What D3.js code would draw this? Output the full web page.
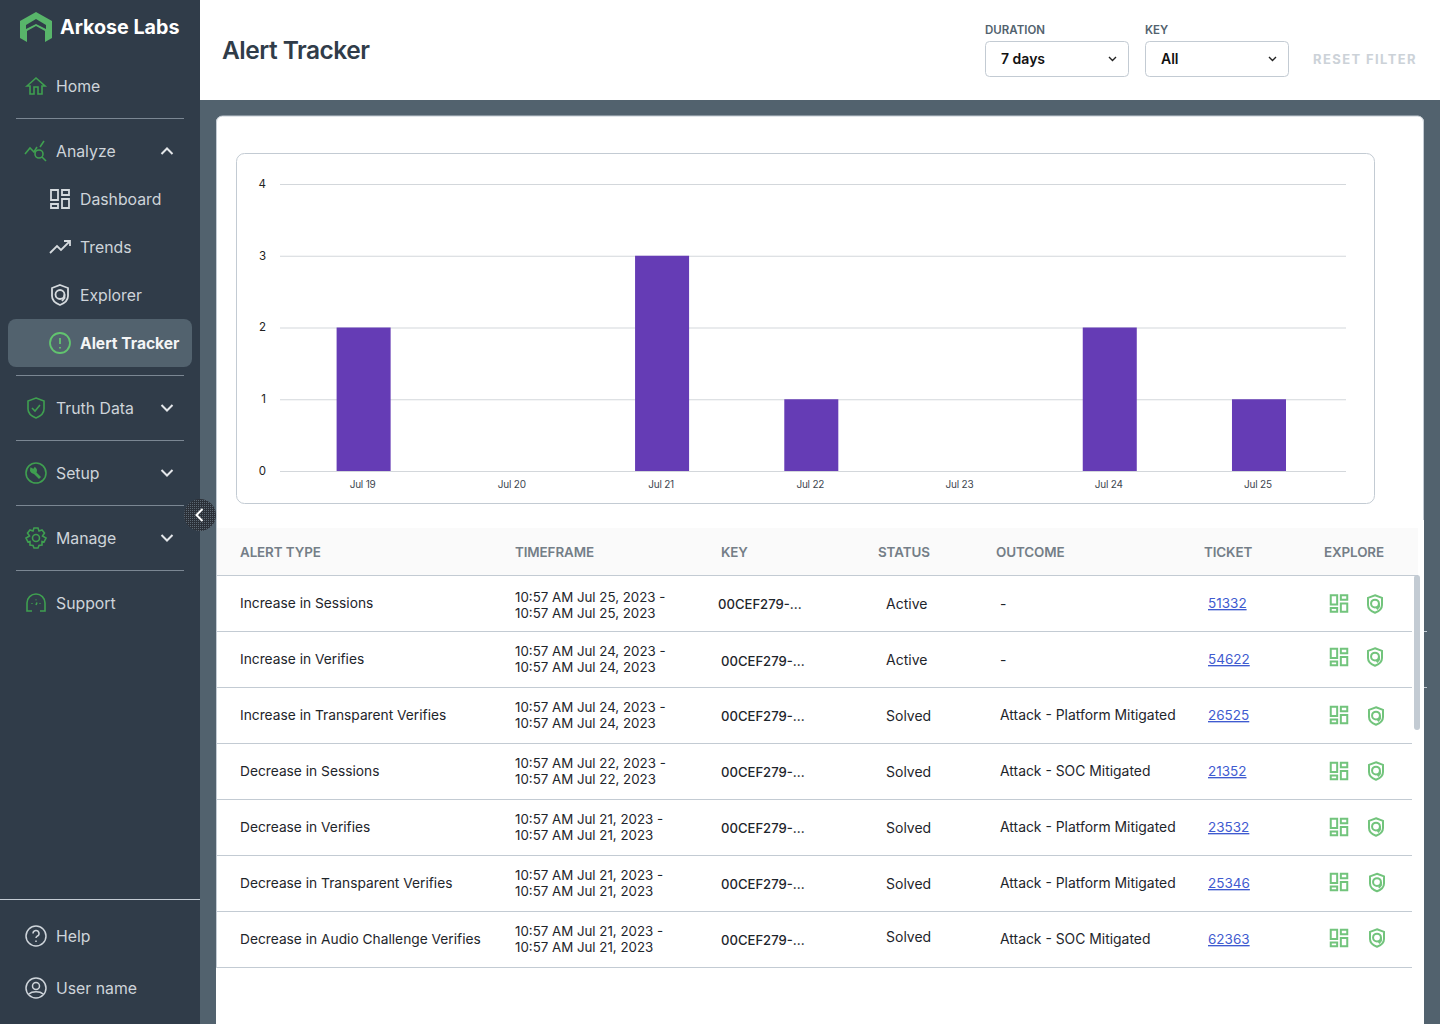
<!DOCTYPE html>
<html>
<head>
<meta charset="utf-8">
<script src="https://cdn.jsdelivr.net/npm/d3@7"></script>
<style>
  html, body { margin: 0; padding: 0; background: #fff; overflow: hidden; }
  text { font-family: Inter, "Noto Sans", sans-serif; }
</style>
</head>
<body>
<div id="app"></div>
<script>
// chart values
const days = ['Jul 19', 'Jul 20', 'Jul 21', 'Jul 22', 'Jul 23', 'Jul 24', 'Jul 25'];
const alertCounts = [2, 0, 3, 1, 0, 2, 1];
const yTicks = [0, 1, 2, 3, 4];

// table values
const columns = ['ALERT TYPE', 'TIMEFRAME', 'KEY', 'STATUS', 'OUTCOME', 'TICKET', 'EXPLORE'];
const alertTypes = ['Increase in Sessions', 'Increase in Verifies', 'Increase in Transparent Verifies', 'Decrease in Sessions', 'Decrease in Verifies', 'Decrease in Transparent Verifies', 'Decrease in Audio Challenge Verifies'];
const timeframes = ['Jul 25, 2023', 'Jul 24, 2023', 'Jul 24, 2023', 'Jul 22, 2023', 'Jul 21, 2023', 'Jul 21, 2023', 'Jul 21, 2023'];
const statuses = ['Active', 'Active', 'Solved', 'Solved', 'Solved', 'Solved', 'Solved'];
const outcomes = ['-', '-', 'Attack - Platform Mitigated', 'Attack - SOC Mitigated', 'Attack - Platform Mitigated', 'Attack - Platform Mitigated', 'Attack - SOC Mitigated'];
const tickets = ['51332', '54622', '26525', '21352', '23532', '25346', '62363'];

// sidebar
const navMain = [
  { label: 'Home', icon: 'home', y: 86 },
  { label: 'Analyze', icon: 'analyze', y: 151, chev: 'up' },
  { label: 'Truth Data', icon: 'truth', y: 408, chev: 'down' },
  { label: 'Setup', icon: 'setup', y: 473, chev: 'down' },
  { label: 'Manage', icon: 'manage', y: 538, chev: 'down' },
  { label: 'Support', icon: 'support', y: 603 }
];
const navSub = [
  { label: 'Dashboard', icon: 'grid', y: 199 },
  { label: 'Trends', icon: 'trend', y: 247 },
  { label: 'Explorer', icon: 'shield', y: 295 },
  { label: 'Alert Tracker', icon: 'alert', y: 343, active: true }
];
const navFoot = [
  { label: 'Help', icon: 'help', y: 936 },
  { label: 'User name', icon: 'user', y: 988 }
];
const navRules = [118, 375, 440, 505, 570];

const SIDE = '#303c49', SLATE = '#52626e', LINE = '#c3cbd3', GREEN = '#3f9f50', LIGHTGREEN = '#72c47c', NAVTXT = '#ced4da';

const svg = d3.select('#app').append('svg').attr('width', 1440).attr('height', 1024).style('display', 'block');

svg.append('rect').attr('width', 1440).attr('height', 1024).attr('fill', SLATE);
svg.append('rect').attr('x', 200).attr('width', 1240).attr('height', 100).attr('fill', '#fff');
svg.append('path').attr('d', 'M216,1024V122a6,6 0 0 1 6,-6H1418a6,6 0 0 1 6,6V1024Z').attr('fill', '#fff');
svg.append('path').attr('d', 'M216.5,968V122a6,6 0 0 1 6,-6H1418a6,6 0 0 1 5.5,6V520').attr('fill', 'none').attr('stroke', LINE);

// header
svg.append('text').attr('x', 222).attr('y', 58.5).attr('font-size', 24.5).attr('font-weight', 600).attr('fill', '#303c49').attr('letter-spacing', -0.5).text('Alert Tracker');

const filters = [{ label: 'DURATION', value: '7 days', x: 985 }, { label: 'KEY', value: 'All', x: 1145 }];
const filterG = svg.append('g').selectAll('g').data(filters).join('g').attr('transform', d => `translate(${d.x},0)`);
filterG.append('text').attr('y', 34).attr('font-size', 11.5).attr('font-weight', 600).attr('fill', SLATE).text(d => d.label);
filterG.append('rect').attr('x', 0.5).attr('y', 41.5).attr('width', 143).attr('height', 35).attr('rx', 4).attr('fill', '#fff').attr('stroke', LINE);
filterG.append('text').attr('x', 16).attr('y', 64).attr('font-size', 14).attr('font-weight', 600).attr('fill', '#111').text(d => d.value);
filterG.append('path').attr('d', 'M124,57l3.5,3.5l3.5,-3.5').attr('fill', 'none').attr('stroke', '#222').attr('stroke-width', 1.4);
svg.append('text').attr('x', 1313).attr('y', 64).attr('font-size', 13).attr('font-weight', 700).attr('letter-spacing', 1.4).attr('fill', '#ccd2d8').text('RESET FILTER');

// chart box
svg.append('rect').attr('x', 236.5).attr('y', 153.5).attr('width', 1138).attr('height', 350).attr('rx', 8).attr('fill', '#fff').attr('stroke', LINE);

const x = d3.scaleBand().domain(days).range([289, 1333.6]).paddingInner(0.638).paddingOuter(0.319);
const y = d3.scaleLinear().domain([0, 4]).range([471, 184]);

const yAxis = svg.append('g').attr('transform', 'translate(280,0)')
  .call(d3.axisLeft(y).tickValues(yTicks).tickSize(-1066).tickPadding(14).tickFormat(d3.format('d')));
yAxis.select('.domain').remove();
yAxis.selectAll('line').attr('stroke', '#d3d7db');
yAxis.selectAll('text').attr('font-size', 11.5).attr('fill', '#222').attr('dy', '0.3em');

svg.append('g').selectAll('rect').data(days).join('rect')
  .attr('x', d => x(d))
  .attr('width', x.bandwidth())
  .attr('y', (d, i) => y(alertCounts[i]))
  .attr('height', (d, i) => y(0) - y(alertCounts[i]))
  .attr('fill', '#653cb5');

const xAxis = svg.append('g').attr('transform', 'translate(0,471)')
  .call(d3.axisBottom(x).tickSize(0).tickPadding(10));
xAxis.select('.domain').remove();
xAxis.selectAll('text').attr('font-size', 10).attr('fill', '#3d4650').attr('letter-spacing', -0.2).attr('dx', -1);

// table
const rowY = d3.scaleBand().domain(d3.range(7)).range([576, 968]);
const colX = [240, 515, 721, 878, 996, 1204, 1324];
svg.append('rect').attr('x', 217).attr('y', 528).attr('width', 1201).attr('height', 47).attr('fill', '#fafafa');
svg.append('line').attr('x1', 217).attr('x2', 1418).attr('y1', 575.5).attr('y2', 575.5).attr('stroke', LINE);
svg.append('g').selectAll('text').data(columns).join('text')
  .attr('x', (d, i) => colX[i]).attr('y', 557)
  .attr('font-size', 13.4).attr('font-weight', 600).attr('fill', '#747e87').attr('letter-spacing', -0.1)
  .text(d => d);

// the source table is not quite regular, these are its small per-row shifts
const keyNudgeX = [-3, 0, 0, 0, 0, 0, 0];
const keyBase = [33, 34, 33, 33, 33, 33, 33];
const timeBase = [26, 24, 24, 24, 24, 24, 24];
const statusBase = [33, 33, 33, 33, 33, 33, 30];
const gridIconY = [27.5, 25, 27, 27, 27, 26, 26];
const shieldIconX = [1375, 1375, 1376, 1376, 1376, 1377, 1377];
const shieldIconY = [28, 25, 28, 27, 27, 26.5, 26];

const row = svg.append('g').selectAll('g').data(d3.range(7)).join('g')
  .attr('transform', i => `translate(0,${rowY(i)})`);
row.append('line').attr('x1', 217).attr('x2', 1412).attr('y1', 55.5).attr('y2', 55.5).attr('stroke', LINE);
const rowText = (sel, size) => sel.attr('font-size', size || 14).attr('fill', '#1e252b');
row.append('text').call(rowText, 13.75).attr('x', 240).attr('y', 32).text(i => alertTypes[i]);
row.append('text').call(rowText, 13.3).attr('x', 515).attr('y', i => timeBase[i]).text(i => `10:57 AM ${timeframes[i]} -`);
row.append('text').call(rowText, 13.3).attr('x', 515).attr('y', i => timeBase[i] + 16).text(i => `10:57 AM ${timeframes[i]}`);
row.append('text').call(rowText, 13.1).attr('x', i => 721 + keyNudgeX[i]).attr('y', i => keyBase[i]).attr('font-weight', 500).text('00CEF279-...');
row.append('text').call(rowText).attr('x', 886).attr('y', i => statusBase[i]).text(i => statuses[i]);
row.append('text').call(rowText, 13.9).attr('x', 1000).attr('y', i => i < 2 ? 33 : 32).text(i => outcomes[i]);
row.append('text').call(rowText, 13.5).attr('x', 1208).attr('y', 32).attr('fill', '#3f5bd0').attr('text-decoration', 'underline').text(i => tickets[i]);

// icon paths, drawn in a 24 box
const icons = {
  home: g => g.append('path').attr('d', 'M3,12L12,4L21,12H18V20H14V13H10V20H6V12Z'),
  analyze: g => { g.append('path').attr('d', 'M1,15L6,9L10,13L13,8M16,8L20,2'); g.append('circle').attr('cx', 15).attr('cy', 15).attr('r', 4); g.append('path').attr('d', 'M18,18L22,22'); },
  grid: g => g.append('path').attr('d', 'M3,3H10V13H3ZM14,3H21V8H14ZM3,17H10V21H3ZM14,12H21V21H14Z'),
  trend: g => g.append('path').attr('d', 'M2,18L9,11L13,15L22,6M16,6H22V11'),
  shield: g => { g.append('path').attr('d', 'M12,2L20,5V13C20,17 17,20 12,22C7,20 4,17 4,13V5Z'); g.append('circle').attr('cx', 12).attr('cy', 11.5).attr('r', 4.5); g.append('path').attr('d', 'M16.5,11.5V15L14,18'); },
  alert: g => { g.append('circle').attr('cx', 12).attr('cy', 12).attr('r', 10); g.append('path').attr('d', 'M12,7V13M12,16V17.5'); },
  truth: g => g.append('path').attr('d', 'M12,2L20,5V13C20,17 17,20 12,22C7,20 4,17 4,13V5ZM8,12L11,15L16,9'),
  setup: g => {
    g.append('circle').attr('cx', 12).attr('cy', 12).attr('r', 10);
    g.append('path').attr('d', 'M10,11L16,17').attr('stroke-width', 2.8);
    g.append('path').attr('d', 'M7,7.5A3.2,3.2 0 0 0 11.5,11.5A3.2,3.2 0 0 0 11,7L9.5,9Z').attr('fill', GREEN);
  },
  manage: g => { g.append('circle').attr('cx', 12).attr('cy', 12).attr('r', 3.5); g.append('path').attr('d', 'M10,2H14L15,5L18,4L20.5,7L18.5,10L22,12L20,16L18,15.5L18,19L15,19.5L14,22H10L9,19.5L6,19L6,15.5L4,16L2,12L5.5,10L3.5,7L6,4L9,5Z'); },
  support: g => { g.append('path').attr('d', 'M3,17V12A9,9 0 0 1 21,12V17M3,15V20H8M21,15V20H16'); g.append('path').attr('d', 'M8,12V12.8M16,12V12.8M12,8.5V9.3M12,14L13,11.5'); },
  help: g => { g.append('circle').attr('cx', 12).attr('cy', 12).attr('r', 10); g.append('path').attr('d', 'M9,9.5A3,3 0 1 1 13,12.3C12.3,12.7 12,13 12,14M12,16.5V18'); },
  user: g => { g.append('circle').attr('cx', 12).attr('cy', 12).attr('r', 10); g.append('circle').attr('cx', 12).attr('cy', 10).attr('r', 3.5); g.append('path').attr('d', 'M5,18C8,15 16,15 19,18'); }
};
function drawIcon(parent, name, cx, cy, color, size, sw) {
  const k = size / 24;
  const g = parent.append('g')
    .attr('transform', `translate(${cx - size / 2},${cy - size / 2}) scale(${k})`)
    .attr('fill', 'none').attr('stroke', color).attr('stroke-width', (sw || 1.6) / k);
  icons[name](g);
  return g;
}

row.each(function (i) {
  const r = d3.select(this);
  drawIcon(r, 'grid', 1339, gridIconY[i], LIGHTGREEN, 22, 2);
  drawIcon(r, 'shield', shieldIconX[i], shieldIconY[i], LIGHTGREEN, 21, 2);
});

// scrollbar and the two small marks on the panel edge
svg.append('rect').attr('x', 1414).attr('y', 575).attr('width', 6).attr('height', 155).attr('rx', 3).attr('fill', LINE);
svg.append('g').selectAll('line').data([631, 687]).join('line')
  .attr('x1', 1424).attr('x2', 1427).attr('y1', d => d + 0.5).attr('y2', d => d + 0.5).attr('stroke', LINE);

// sidebar
svg.append('rect').attr('width', 200).attr('height', 1024).attr('fill', SIDE);
svg.append('g').selectAll('line').data(navRules).join('line')
  .attr('x1', 16).attr('x2', 184).attr('y1', d => d + 0.5).attr('y2', d => d + 0.5).attr('stroke', '#7b8793');
svg.append('line').attr('x1', 0).attr('x2', 200).attr('y1', 899.5).attr('y2', 899.5).attr('stroke', '#c3cbd3');
svg.append('rect').attr('x', 8).attr('y', 319).attr('width', 184).attr('height', 48).attr('rx', 8).attr('fill', SLATE);

// logo
svg.append('path').attr('d', 'M36,12L52,21V38L45,42V31L36,26L27,31V42L20,38V21Z M36,19L46,25V29L36,24L26,29V25Z')
  .attr('fill', '#58b56a').attr('fill-rule', 'evenodd');
svg.append('text').attr('x', 60).attr('y', 34).attr('font-size', 19.7).attr('font-weight', 700).attr('fill', '#fff').text('Arkose Labs');

navMain.forEach(d => {
  drawIcon(svg, d.icon, 36, d.y, GREEN, 24, 1.6);
  svg.append('text').attr('x', 56).attr('y', d.y + 6).attr('font-size', 15.8).attr('fill', NAVTXT).text(d.label);
  if (d.chev) {
    svg.append('path').attr('d', d.chev === 'up' ? `M161.5,${d.y + 3}l5.5,-5.5l5.5,5.5` : `M161.5,${d.y - 3}l5.5,5.5l5.5,-5.5`)
      .attr('fill', 'none').attr('stroke', '#e4e7ea').attr('stroke-width', 2);
  }
});
navSub.forEach(d => {
  drawIcon(svg, d.icon, 60, d.y, d.active ? '#62c46f' : '#d5dade', 24, 1.8);
  svg.append('text').attr('x', 80).attr('y', d.y + 6).attr('font-size', d.active ? 15.6 : 15.8)
    .attr('font-weight', d.active ? 700 : 400).attr('fill', d.active ? '#f4f5f6' : NAVTXT).text(d.label);
});
navFoot.forEach(d => {
  drawIcon(svg, d.icon, 36, d.y, '#ced4da', 24, 1.5);
  svg.append('text').attr('x', 56).attr('y', d.y + 6).attr('font-size', 15.8).attr('fill', NAVTXT).text(d.label);
});

// collapse button, the source shows it dithered
const dots = svg.append('defs').append('pattern').attr('id', 'dither').attr('width', 2).attr('height', 2).attr('patternUnits', 'userSpaceOnUse');
dots.append('rect').attr('width', 2).attr('height', 2).attr('fill', '#2b3038');
dots.append('rect').attr('width', 1).attr('height', 1).attr('fill', '#5c6873');
svg.append('circle').attr('cx', 200).attr('cy', 515).attr('r', 16).attr('fill', 'url(#dither)');
svg.append('path').attr('d', 'M202.5,509l-6,6l6,6').attr('fill', 'none').attr('stroke', '#fff').attr('stroke-width', 2);
</script>
</body>
</html>
